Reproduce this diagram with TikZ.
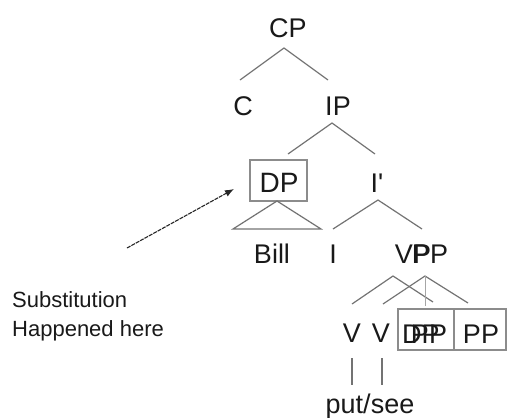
\documentclass[tikz,border=0pt]{standalone}
\usepackage{fontspec}
\setmainfont{Liberation Sans}
\usetikzlibrary{arrows.meta}
\begin{document}
\begin{tikzpicture}[x=1pt,y=-1pt,
  lab/.style={anchor=base, inner sep=0pt, font=\fontsize{27}{32}\selectfont, text=black!90},
  note/.style={anchor=base west, inner sep=0pt, font=\fontsize{22}{29}\selectfont, text=black!90},
  br/.style={draw=black!55, line width=1.2pt},
  boxst/.style={draw=black!45, line width=2pt, inner sep=0pt},
  arr/.style={draw=black!85, line width=1.1pt, dash pattern=on 4pt off 1pt, -{Latex[length=9pt,width=7pt]}}]
\useasboundingbox (0,0) rectangle (507,418);
% labels
\node[lab] (CP) at (288,37) {CP};
\node[lab] (C) at (243,115) {C};
\node[lab] (IP) at (338,115) {IP};
\node[boxst, minimum width=57pt, minimum height=41pt] (DPbox) at (278.5,180.5) {};
\node[lab, font=\fontsize{28}{32}\selectfont] (DP) at (279,192) {DP};
\node[lab] (Ibar) at (377,192) {I\textquotesingle};
\node[lab] (Bill) at (272,263) {Bill};
\node[lab] (I) at (333,263) {I};
\node[lab] (VP) at (413,263) {VP};
\node[lab] (PPa) at (430,263) {PP};
\node[lab] (V1) at (352,342) {V};
\node[lab] (V2) at (381,342) {V};
\node[boxst, minimum width=56pt, minimum height=41pt] (box1) at (426,329.5) {};
\node[boxst, minimum width=52pt, minimum height=41pt] (box2) at (480,329.5) {};
\node[lab] (DPb) at (421,343) {DP};
\node[lab] (PPb) at (429,343) {PP};
\node[lab] (PPc) at (481,343) {PP};
\node[lab] (put) at (370,413) {put/see};
\node[note] (sub1) at (12,307) {Substitution};
\node[note] (sub2) at (12,336) {Happened here};
% branch points
\coordinate (cpA) at (284,48);
\coordinate (cpL) at (240,80);
\coordinate (cpR) at (328,80);
\coordinate (ipA) at (332,123);
\coordinate (ipL) at (288,154);
\coordinate (ipR) at (375,154);
\coordinate (triA) at (277,201);
\coordinate (triL) at (233,229);
\coordinate (triR) at (321,229);
\coordinate (ibA) at (378,200);
\coordinate (ibL) at (333,229);
\coordinate (ibR) at (422,229);
\coordinate (vpA) at (393,276);
\coordinate (vpL) at (352,304);
\coordinate (vpR) at (433,302);
\coordinate (ppA) at (425,276);
\coordinate (ppL) at (383,304);
\coordinate (ppR) at (468,303);
\coordinate (ppD) at (425,306);
\coordinate (v1T) at (352,358);
\coordinate (v1B) at (352,385);
\coordinate (v2T) at (382,358);
\coordinate (v2B) at (382,385);
\coordinate (arS) at (127,248);
\coordinate (arE) at (234,189);
% connectors
\draw[br] (cpL) -- (cpA) -- (cpR);
\draw[br] (ipL) -- (ipA) -- (ipR);
\draw[br] (triL) -- (triA) -- (triR) -- cycle;
\draw[br] (ibL) -- (ibA) -- (ibR);
\draw[br] (vpL) -- (vpA) -- (vpR);
\draw[br] (ppL) -- (ppA) -- (ppR);
\draw[br, draw=black!35, line width=0.8pt] (ppA) -- (ppD);
\draw[br] (v1T) -- (v1B);
\draw[br] (v2T) -- (v2B);
\draw[arr] (arS) -- (arE);
\end{tikzpicture}
\end{document}
